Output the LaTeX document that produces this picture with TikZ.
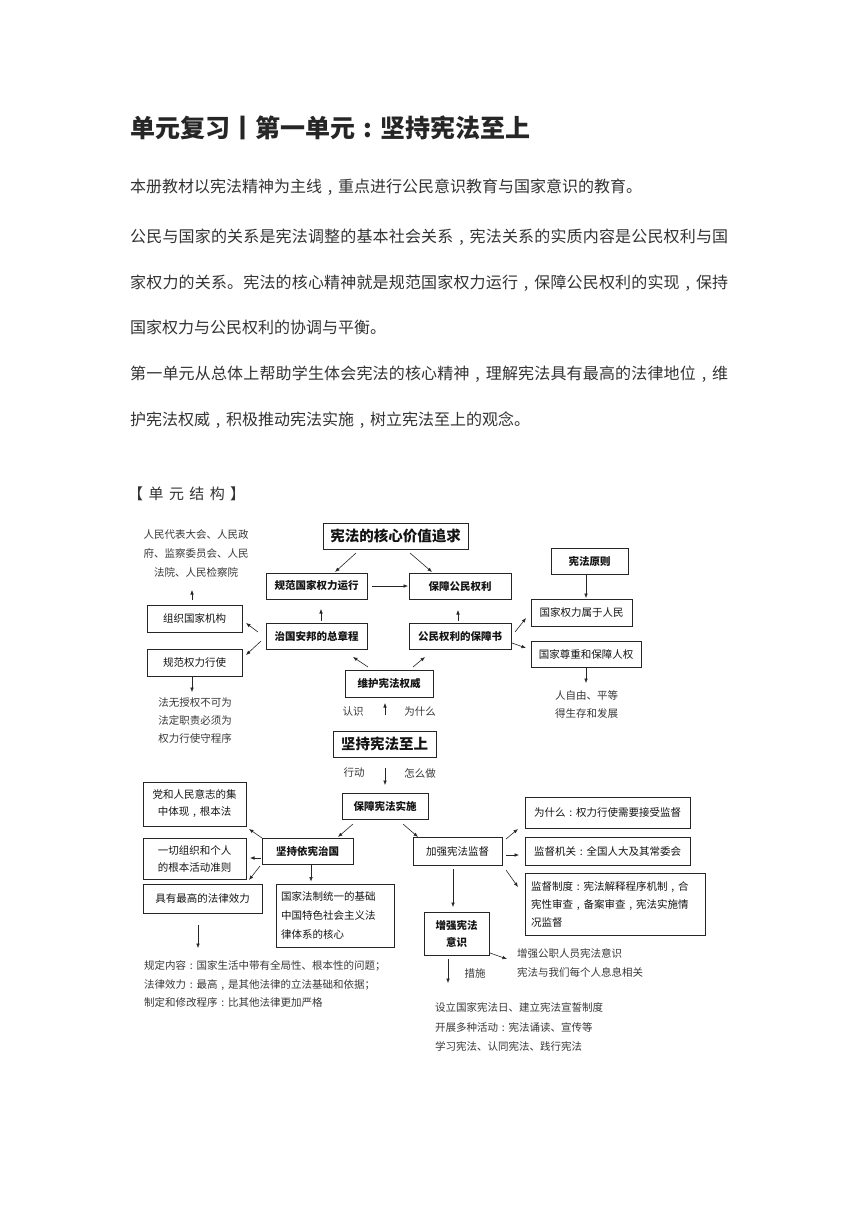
\documentclass[tikz,border=0pt]{standalone}
\usepackage{fontspec}
\setmainfont{Noto Sans CJK SC}
\usetikzlibrary{arrows.meta}
\def\spreadline#1#2{\hbox to #1{\sprfirst#2\relax}}
\def\sprfirst#1{#1\sprrest}
\def\sprrest#1{\ifx\relax#1\else\hfil#1\expandafter\sprrest\fi}
\newcommand\zc{\hbox to 1em{\hss,\hss}}
\newcommand\zm{\hbox to 1em{\hss:\hss}}
\newcommand\dfs{\fontsize{10.5pt}{17pt}\selectfont}
\newcommand\dbig{\fontsize{14.5pt}{17pt}\selectfont\bfseries}
\newcommand\dpar{\fontsize{16pt}{20pt}\selectfont}
\begin{document}
\begin{tikzpicture}[x=1pt,y=-1pt,
  box/.style={draw=black!85, line width=0.7pt, inner sep=0pt, font=\dfs, text=black!92},
  bbox/.style={box, font=\dfs\bfseries},
  arr/.style={-{Latex[length=4.5pt,width=3.6pt]}, line width=0.6pt, draw=black!85},
  note/.style={inner sep=0pt, text=black!78},
  para/.style={inner sep=0pt, anchor=west, font=\dpar, text=black!80}
]
\useasboundingbox[fill=white] (0,0) rectangle (860,1216);

% ---------- header text ----------
\node[inner sep=0pt, anchor=west, font=\fontsize{25pt}{30pt}\selectfont\bfseries, text=black!85] (title) at (130,128) {单元复习丨第一单元\zm 坚持宪法至上};
\node[para] (p1) at (130,187) {本册教材以宪法精神为主线\zc 重点进行公民意识教育与国家意识的教育。};
\node[para] (p2a) at (130,237) {\spreadline{598pt}{公民与国家的关系是宪法调整的基本社会关系\zc 宪法关系的实质内容是公民权利与国}};
\node[para] (p2b) at (130,283) {\spreadline{598pt}{家权力的关系。宪法的核心精神就是规范国家权力运行\zc 保障公民权利的实现\zc 保持}};
\node[para] (p2c) at (130,327) {国家权力与公民权利的协调与平衡。};
\node[para] (p3a) at (130,374) {\spreadline{598pt}{第一单元从总体上帮助学生体会宪法的核心精神\zc 理解宪法具有最高的法律地位\zc 维}};
\node[para] (p3b) at (130,420) {护宪法权威\zc 积极推动宪法实施\zc 树立宪法至上的观念。};
\node[para, font=\fontsize{15pt}{18pt}\selectfont] (unit) at (128,494) {\spreadline{117pt}{【单元结构】}};

% ---------- upper diagram ----------
\node[box, font=\dbig, minimum width=145pt, minimum height=26pt] (core) at (395.5,536) {宪法的核心价值追求};
\node[bbox, minimum width=101pt, minimum height=26pt] (gfgj) at (316.5,586) {规范国家权力运行};
\node[bbox, minimum width=102pt, minimum height=26pt] (bzgm) at (460,586) {保障公民权利};
\node[bbox, minimum width=101pt, minimum height=26pt] (zgab) at (316.5,636) {治国安邦的总章程};
\node[bbox, minimum width=102pt, minimum height=26pt] (gmql) at (460,636) {公民权利的保障书};
\node[bbox, minimum width=88pt, minimum height=27pt] (whxf) at (389,683.5) {维护宪法权威};
\node[bbox, minimum width=77pt, minimum height=26pt] (xfyz) at (589.5,561) {宪法原则};
\node[box, minimum width=101pt, minimum height=27pt] (gjql) at (581.5,612.5) {国家权力属于人民};
\node[box, minimum width=110pt, minimum height=26pt] (gjzz) at (586,654) {国家尊重和保障人权};
\node[box, minimum width=95pt, minimum height=27pt] (zzjg) at (194.5,618.5) {组织国家机构};
\node[box, minimum width=95pt, minimum height=27pt] (gfql) at (194.5,662.5) {规范权力行使};

\node[note, align=center, font=\fontsize{10.5pt}{19pt}\selectfont] (rmdb) at (196,554) {人民代表大会、人民政\\府、监察委员会、人民\\法院、人民检察院};
\node[note, align=center, font=\fontsize{10.5pt}{18pt}\selectfont] (fwsq) at (195,721) {法无授权不可为\\法定职责必须为\\权力行使守程序};
\node[note, align=left, anchor=west, font=\fontsize{10.5pt}{18pt}\selectfont] (rzy) at (555,704) {人自由、平等\\得生存和发展};
\node[note, font=\dfs] (rs) at (353,712) {认识};
\node[note, font=\dfs] (wsm2) at (420,712) {为什么};

% ---------- lower diagram ----------
\node[box, font=\dbig, minimum width=103pt, minimum height=26pt] (jcxf) at (384.5,744) {坚持宪法至上};
\node[note, font=\dfs] (xd) at (354,773) {行动};
\node[note, font=\dfs] (zmz) at (420,773) {怎么做};
\node[bbox, minimum width=86pt, minimum height=26pt] (bzss) at (385,806) {保障宪法实施};
\node[bbox, minimum width=91pt, minimum height=26pt] (jcyx) at (307.5,851) {坚持依宪治国};
\node[box, minimum width=89pt, minimum height=28pt] (jqjd) at (457.5,851) {加强宪法监督};
\node[box, minimum width=103pt, minimum height=44pt, align=center] (dhrm) at (194.5,804) {党和人民意志的集\\中体现\zc 根本法};
\node[box, minimum width=103pt, minimum height=41pt, align=left] (yqzz) at (194.5,858.5) {一切组织和个人\\的根本活动准则};
\node[box, minimum width=119pt, minimum height=29pt] (jyzg) at (202.5,898.5) {具有最高的法律效力};
\node[box, minimum width=118pt, minimum height=63pt, align=left, text width=108pt, font=\fontsize{10.5pt}{19pt}\selectfont] (gjfz) at (335,915.5) {国家法制统一的基础\\中国特色社会主义法\\律体系的核心};
\node[box, minimum width=165pt, minimum height=31pt] (wsm) at (607.5,812.5) {为什么\zm 权力行使需要接受监督};
\node[box, minimum width=165pt, minimum height=28pt] (jdjg) at (607.5,851) {监督机关\zm 全国人大及其常委会};
\node[box, minimum width=180pt, minimum height=62pt, align=left, text width=168pt, font=\fontsize{10.5pt}{18pt}\selectfont] (jdzd) at (615,904) {监督制度\zm 宪法解释程序机制\zc 合\\宪性审查\zc 备案审查\zc 宪法实施情\\况监督};
\node[bbox, minimum width=65pt, minimum height=43pt, align=center] (zqys) at (456.5,933.5) {增强宪法\\意识};

\node[note, align=left, anchor=west, font=\fontsize{10.5pt}{18.5pt}\selectfont] (gdnr) at (144,984) {规定内容\zm 国家生活中带有全局性、根本性的问题；\\法律效力\zm 最高\zc 是其他法律的立法基础和依据；\\制定和修改程序\zm 比其他法律更加严格};
\node[note, align=left, anchor=west, font=\fontsize{10.5pt}{19pt}\selectfont] (zqgz) at (517,962.5) {增强公职人员宪法意识\\宪法与我们每个人息息相关};
\node[note, font=\dfs] (cs) at (475,973) {措施};
\node[note, align=left, anchor=west, font=\fontsize{10.5pt}{19.5pt}\selectfont] (sl) at (435,1027) {设立国家宪法日、建立宪法宣誓制度\\开展多种活动\zm 宪法诵读、宣传等\\学习宪法、认同宪法、践行宪法};

% ---------- arrows (upper) ----------
\draw[arr] ([shift={(-39.5,17)}]core.center) -- ([shift={(18.5,-14)}]gfgj.center);
\draw[arr] ([shift={(14.5,17)}]core.center) -- ([shift={(-28,-14)}]bzgm.center);
\draw[arr] ([shift={(55.5,0)}]gfgj.center) -- ([shift={(-52,0)}]bzgm.center);
\draw[arr] ([shift={(4.5,-15)}]zgab.center) -- ([shift={(4.5,23)}]gfgj.center);
\draw[arr] ([shift={(-2,-15)}]gmql.center) -- ([shift={(-2,24)}]bzgm.center);
\draw[arr] ([shift={(-58.5,-4)}]zgab.center) -- ([shift={(51.5,4.5)}]zzjg.center);
\draw[arr] ([shift={(-55.5,5)}]zgab.center) -- ([shift={(51.5,-7.5)}]gfql.center);
\draw[arr] ([shift={(-2.5,-18.5)}]zzjg.center) -- ([shift={(-4,36)}]rmdb.center);
\draw[arr] ([shift={(-2.5,14.5)}]gfql.center) -- ([shift={(-3,-29)}]fwsq.center);
\draw[arr] ([shift={(-21,-16.5)}]whxf.center) -- ([shift={(36.5,21)}]zgab.center);
\draw[arr] ([shift={(24,-16.5)}]whxf.center) -- ([shift={(-35,21)}]gmql.center);
\draw[arr] ([shift={(0.5,-29)}]jcxf.center) -- ([shift={(-4,19.5)}]whxf.center);
\draw[arr] ([shift={(-3.5,14)}]xfyz.center) -- ([shift={(4.5,-14.5)}]gjql.center);
\draw[arr] ([shift={(55,-4)}]gmql.center) -- ([shift={(-55.5,5.5)}]gjql.center);
\draw[arr] ([shift={(52,7)}]gmql.center) -- ([shift={(-60,-6)}]gjzz.center);
\draw[arr] ([shift={(0,13)}]gjzz.center) -- ([shift={(31,-21)}]rzy.west);

% ---------- arrows (lower) ----------
\draw[arr] ([shift={(0.5,24)}]jcxf.center) -- ([shift={(0,-21)}]bzss.center);
\draw[arr] ([shift={(-32,18)}]bzss.center) -- ([shift={(30.5,-14)}]jcyx.center);
\draw[arr] ([shift={(18,18)}]bzss.center) -- ([shift={(-39.5,-14)}]jqjd.center);
\draw[arr] ([shift={(-45.5,-13)}]jcyx.center) -- ([shift={(54.5,25)}]dhrm.center);
\draw[arr] ([shift={(-46.5,7)}]jcyx.center) -- ([shift={(55.5,-0.5)}]yqzz.center);
\draw[arr] ([shift={(-47.5,15)}]jcyx.center) -- ([shift={(46.5,-18.5)}]jyzg.center);
\draw[arr] ([shift={(3.5,14)}]jcyx.center) -- ([shift={(-24,-34)}]gjfz.center);
\draw[arr] ([shift={(-4.5,26.5)}]jyzg.center) -- ([shift={(54,-36)}]gdnr.west);
\draw[arr] ([shift={(48.5,-12)}]jqjd.center) -- ([shift={(-89.5,16.5)}]wsm.center);
\draw[arr] ([shift={(48.5,4)}]jqjd.center) -- ([shift={(-88.5,4)}]jdjg.center);
\draw[arr] ([shift={(48.5,19)}]jqjd.center) -- ([shift={(-97,-17)}]jdzd.center);
\draw[arr] ([shift={(-4.5,18)}]jqjd.center) -- ([shift={(-3.5,-26.5)}]zqys.center);
\draw[arr] ([shift={(33.5,19.5)}]zqys.center) -- ([shift={(-10,-3.5)}]zqgz.west);
\draw[arr] ([shift={(-8.5,25.5)}]zqys.center) -- ([shift={(13,-44)}]sl.west);
\end{tikzpicture}
\end{document}
